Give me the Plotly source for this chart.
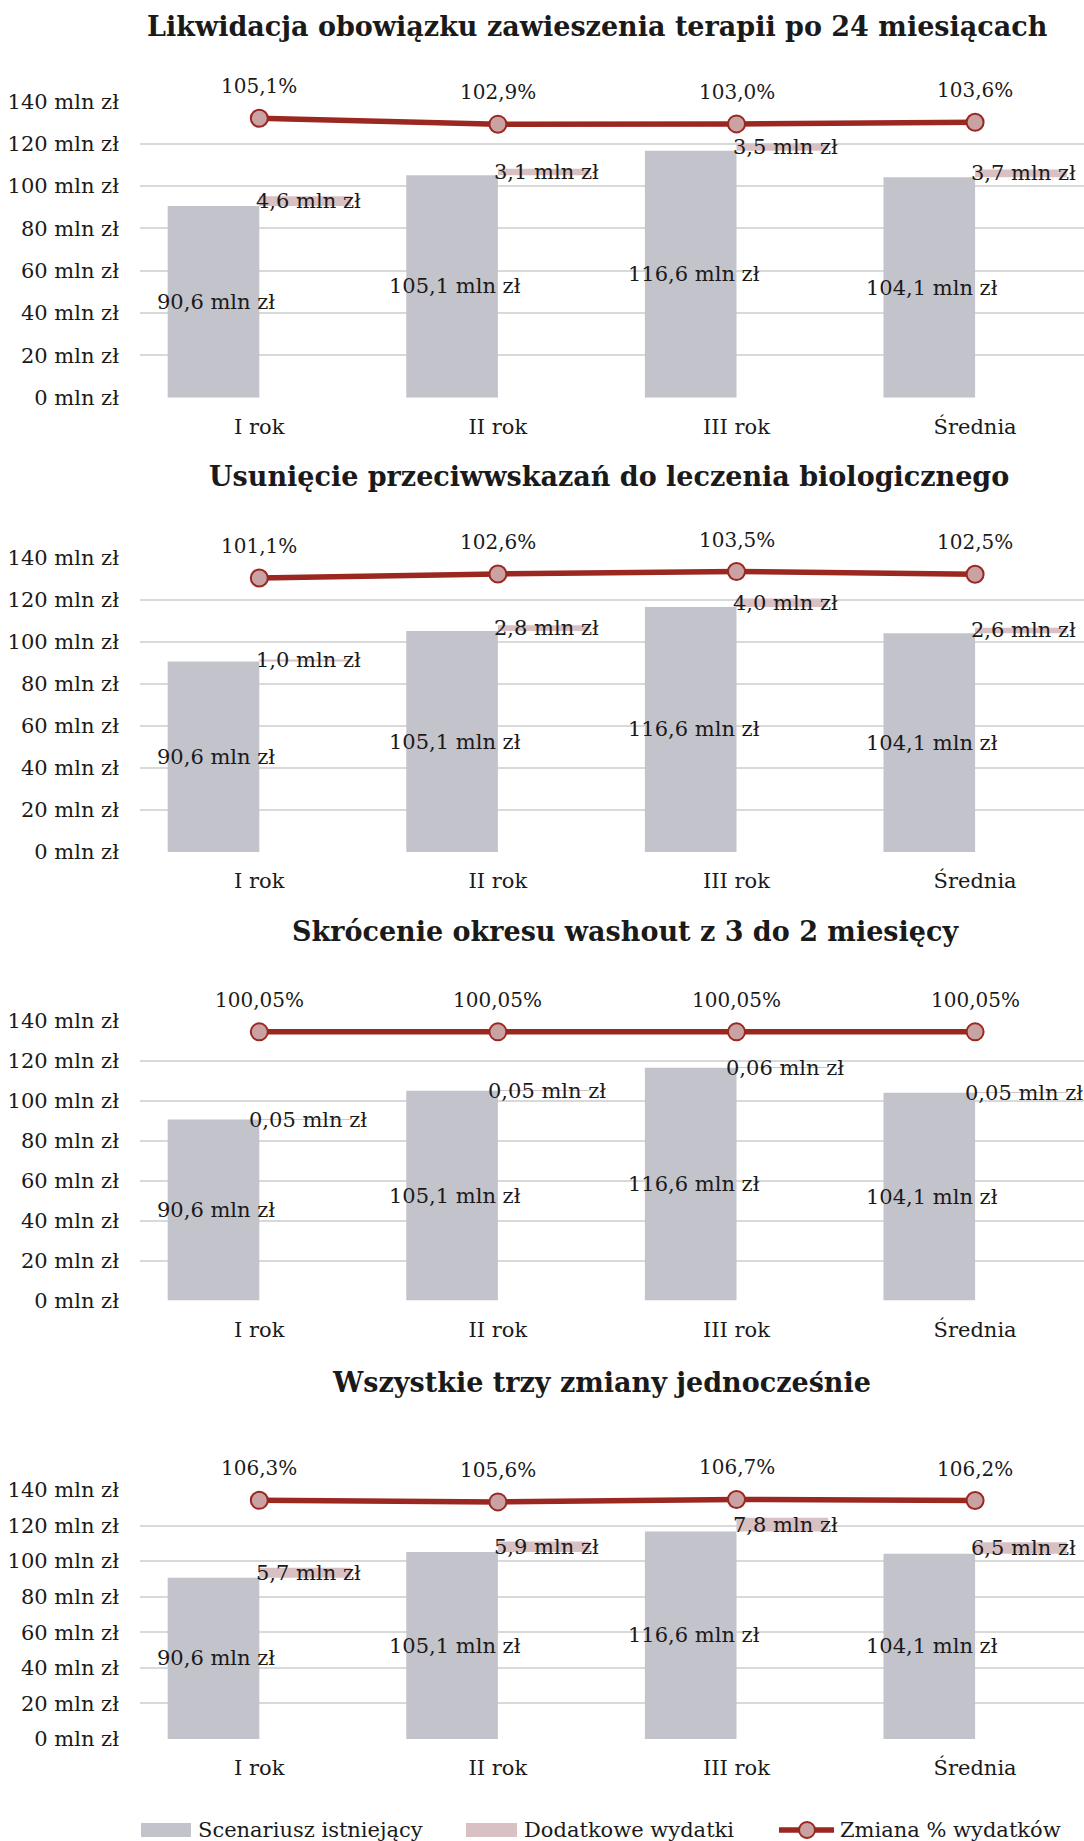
import plotly.graph_objects as go

# ---- data -------------------------------------------------------------
categories = ["I rok", "II rok", "III rok", "Średnia"]

panel_titles = [
    "Likwidacja obowiązku zawieszenia terapii po 24 miesiącach",
    "Usunięcie przeciwwskazań do leczenia biologicznego",
    "Skrócenie okresu washout z 3 do 2 miesięcy",
    "Wszystkie trzy zmiany jednocześnie",
]

# existing scenario spending (mln zł), same for every variant
existing = [90.6, 105.1, 116.6, 104.1]

# additional spending (mln zł) per variant
extra_termination = [4.6, 3.1, 3.5, 3.7]
extra_contraindications = [1.0, 2.8, 4.0, 2.6]
extra_washout = [0.05, 0.05, 0.06, 0.05]
extra_all = [5.7, 5.9, 7.8, 6.5]

# spending change (%) per variant
change_termination = [105.1, 102.9, 103.0, 103.6]
change_contraindications = [101.1, 102.6, 103.5, 102.5]
change_washout = [100.05, 100.05, 100.05, 100.05]
change_all = [106.3, 105.6, 106.7, 106.2]

y_tick_values = [0, 20, 40, 60, 80, 100, 120, 140]
y_tick_labels = [f"{v} mln zł" for v in y_tick_values]

legend_labels = ["Scenariusz istniejący", "Dodatkowe wydatki", "Zmiana % wydatków"]

extras = [extra_termination, extra_contraindications, extra_washout, extra_all]
changes = [change_termination, change_contraindications, change_washout, change_all]
decimals = [1, 1, 2, 1]

# ---- styling / layout -------------------------------------------------
W, H = 1084, 1841
FONT = "DejaVu Serif"
TXT = "#1a1a1a"
GREY = "#C3C3CB"
PINK = "#D8C0C3"
RED = "#9B2721"
MARKER_FILL = "#C9A3A3"
GRID = "#D9D9D9"
FS = 21                   # body text size
TITLE_FS = 27

PLOT_LEFT = 140
CAT_STEP = 238.6          # px per category
BAR_W = 0.384             # bar width in category units
SEC_MAX = [111.5, 108.6, 104.1, 110.9]   # secondary (percent) axis top per panel

# (zero line px, 140 line px) per panel, measured from the page top
PANEL_PX = [(397.7, 101.3), (852.0, 557.7), (1300.5, 1021.0), (1739.0, 1490.0)]
TITLE_POS = [(597, 26), (609, 476), (625, 931), (601, 1382)]


def fmt(v, d):
    return f"{v:.{d}f}".replace(".", ",")


def py(px):
    return 1 - px / H


fig = go.Figure()
layout = dict(
    width=W, height=H,
    margin=dict(l=0, r=0, t=0, b=0, pad=0, autoexpand=False),
    paper_bgcolor="white", plot_bgcolor="white",
    showlegend=False,
    font=dict(family=FONT, size=FS, color=TXT),
    annotations=[], shapes=[],
)

x_range = [-0.5, -0.5 + (W - PLOT_LEFT) / CAT_STEP]
xs = list(range(len(categories)))

for p in range(4):
    xa = "x" if p == 0 else f"x{p + 1}"
    ya = "y" if p == 0 else f"y{2 * p + 1}"
    ya2 = f"y{2 * p + 2}"
    xkey = "xaxis" if p == 0 else f"xaxis{p + 1}"
    ykey = "yaxis" if p == 0 else f"yaxis{2 * p + 1}"
    y2key = f"yaxis{2 * p + 2}"
    zero_px, top_px = PANEL_PX[p]

    layout[xkey] = dict(
        domain=[PLOT_LEFT / W, 1], range=x_range, anchor=ya, automargin=False,
        tickmode="array", tickvals=xs, ticktext=categories,
        showgrid=False, zeroline=False, showline=False, ticks="",
        ticklabelstandoff=14, tickfont=dict(size=FS, color=TXT),
    )
    layout[ykey] = dict(
        domain=[py(zero_px), py(top_px)], range=[0, 140], anchor=xa,
        automargin=False,
        tickmode="array", tickvals=y_tick_values, ticktext=y_tick_labels,
        showgrid=True, gridcolor=GRID, gridwidth=2, zeroline=False,
        showline=False, ticks="", ticklabelstandoff=20,
        tickfont=dict(size=FS, color=TXT),
    )
    layout[y2key] = dict(
        overlaying=ya, range=[0, SEC_MAX[p]], visible=False, automargin=False,
        showgrid=False, zeroline=False, anchor=xa,
    )

    ex = extras[p]
    ch = changes[p]
    d = decimals[p]

    fig.add_trace(go.Bar(
        x=xs, y=existing, xaxis=xa, yaxis=ya,
        width=BAR_W, offset=-BAR_W, marker=dict(color=GREY, line=dict(width=0)),
        name=legend_labels[0], hoverinfo="skip",
    ))
    fig.add_trace(go.Bar(
        x=xs, y=ex, base=existing, xaxis=xa, yaxis=ya,
        width=BAR_W, offset=0, marker=dict(color=PINK, line=dict(width=0)),
        name=legend_labels[1], hoverinfo="skip",
    ))
    fig.add_trace(go.Scatter(
        x=xs, y=ch, xaxis=xa, yaxis=ya2, mode="lines+markers",
        line=dict(color=RED, width=5.5),
        marker=dict(size=17, color=MARKER_FILL, line=dict(color=RED, width=2)),
        name=legend_labels[2], hoverinfo="skip", cliponaxis=False,
    ))

    for i in xs:
        # value of the existing-scenario bar, centred in the bar
        layout["annotations"].append(dict(
            x=i - BAR_W / 2, y=existing[i] / 2, xref=xa, yref=ya, xshift=3,
            text=f"{fmt(existing[i], 1)} mln zł", showarrow=False,
            font=dict(size=FS, color=TXT),
        ))
        # value of the additional-spending bar, centred on its segment
        layout["annotations"].append(dict(
            x=i + BAR_W / 2, y=existing[i] + ex[i] / 2, xref=xa, yref=ya, xshift=3,
            text=f"{fmt(ex[i], d)} mln zł", showarrow=False,
            font=dict(size=FS, color=TXT),
        ))
        # percentage change above each marker
        layout["annotations"].append(dict(
            x=i, y=ch[i], xref=xa, yref=ya2, yshift=32,
            text=f"{fmt(ch[i], d)}%", showarrow=False,
            font=dict(size=20, color=TXT),
        ))

    tx, ty = TITLE_POS[p]
    layout["annotations"].append(dict(
        x=tx / W, y=py(ty), xref="paper", yref="paper",
        text=panel_titles[p], showarrow=False, xanchor="center", yanchor="middle",
        font=dict(size=TITLE_FS, color=TXT, family=FONT, weight="bold"),
    ))

# ---- legend (drawn below the last panel) --------------------------------
LEG_Y = 1830
layout["shapes"] += [
    dict(type="rect", xref="paper", yref="paper", x0=141 / W, x1=191 / W,
         y0=py(LEG_Y + 7), y1=py(LEG_Y - 7), fillcolor=GREY, line=dict(width=0)),
    dict(type="rect", xref="paper", yref="paper", x0=466 / W, x1=517 / W,
         y0=py(LEG_Y + 7), y1=py(LEG_Y - 7), fillcolor=PINK, line=dict(width=0)),
    dict(type="line", xref="paper", yref="paper", x0=779 / W, x1=834 / W,
         y0=py(LEG_Y), y1=py(LEG_Y), line=dict(color=RED, width=5.5)),
    dict(type="circle", xref="paper", yref="paper", x0=799 / W, x1=815 / W,
         y0=py(LEG_Y + 8), y1=py(LEG_Y - 8), fillcolor=MARKER_FILL,
         line=dict(color=RED, width=2)),
]
for lx, lab in zip([196, 522, 838], legend_labels):
    layout["annotations"].append(dict(
        x=lx / W, y=py(LEG_Y), xref="paper", yref="paper", xanchor="left",
        yanchor="middle", text=lab, showarrow=False, font=dict(size=FS, color=TXT),
    ))

fig.update_layout(**layout)
fig.write_html("out.html")
